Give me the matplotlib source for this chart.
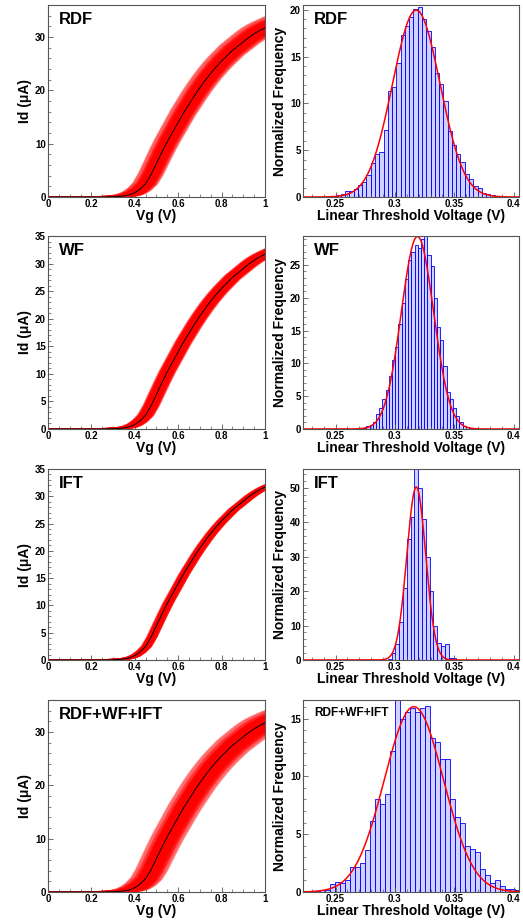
import numpy as np
import matplotlib
matplotlib.use("Agg")
import matplotlib.pyplot as plt
from matplotlib.ticker import MultipleLocator, FuncFormatter
from matplotlib.collections import LineCollection

plt.rcParams['font.family'] = ['Liberation Sans', 'DejaVu Sans']
plt.rcParams['font.weight'] = 'bold'

# ---------------- data ----------------
# mean Id-Vg characteristic (black line)
vg_points = [-0.1, 0.0, 0.1, 0.2, 0.25, 0.3, 0.325, 0.35, 0.375, 0.4, 0.425,
             0.45, 0.475, 0.5, 0.525, 0.55, 0.575, 0.6, 0.625, 0.65, 0.675,
             0.7, 0.725, 0.75, 0.775, 0.8, 0.825, 0.85, 0.875, 0.9, 0.925,
             0.95, 0.975, 1.0, 1.05, 1.1]
id_mean = [0.0, 0.0, 0.0, 0.0, 0.0, 0.05, 0.1, 0.2, 0.4, 0.8, 1.5,
           2.5, 4.2, 6.3, 8.4, 10.4, 12.2, 14.0, 15.8, 17.4, 19.0,
           20.5, 21.9, 23.2, 24.4, 25.5, 26.5, 27.5, 28.3, 29.1, 29.9,
           30.6, 31.2, 31.7, 32.6, 33.3]

panel_names = ["RDF", "WF", "IFT", "RDF+WF+IFT"]

# histogram of linear threshold voltage (normalized frequency)
rdf_start, rdf_width = 0.2400, 0.0036
rdf_heights = [0, 0, 0.1, 0.2, 0.3, 0.6, 0.6, 0.9, 1.3, 1.6, 2.4, 3.6, 4.6, 4.8,
               7.2, 11.3, 11.7, 14.3, 17.3, 18.3, 19.2, 20.1, 20.3, 19.0, 17.7,
               16.0, 13.2, 12.1, 10.3, 7.0, 5.6, 4.6, 3.7, 2.5, 1.9, 1.2, 1.0,
               0.4, 0.3, 0.2, 0.1, 0.1, 0]
wf_start, wf_width = 0.2625, 0.0027
wf_heights = [0, 0, 0.1, 0.1, 0.2, 0.4, 0.6, 1.0, 2.3, 3.2, 4.5, 6.0, 8.0, 10.5,
              12.5, 16.0, 19.2, 22.8, 25.8, 27.0, 28.0, 27.5, 28.9, 29.5, 26.5,
              24.8, 20.0, 15.5, 13.5, 9.6, 5.6, 4.6, 3.2, 2.0, 1.0, 0.5, 0.3,
              0.2, 0.1, 0.05, 0]
ift_start, ift_width = 0.2940, 0.0032
ift_heights = [0.3, 2.0, 4.5, 11.0, 21.0, 35.0, 41.5, 57.0, 50.0, 41.0, 30.0,
               20.0, 10.0, 5.0, 4.0, 4.7, 0.5, 0.5]
all_start, all_width = 0.2288, 0.0042
all_heights = [0.1, 0.1, 0.2, 0.2, 0.7, 0.9, 0.8, 1.0, 2.2, 2.2, 2.5, 3.6, 6.1,
               8.0, 7.6, 8.5, 12.2, 17.0, 15.0, 15.6, 15.9, 15.6, 15.9, 16.1,
               13.3, 13.0, 11.5, 11.5, 8.0, 6.5, 6.0, 4.0, 3.7, 3.5, 2.0, 1.5,
               0.8, 1.0, 0.5, 0.3, 0.3, 0.2]

# gaussian fit parameters (mean, sigma) of each distribution
fit_mu = [0.318, 0.319, 0.318, 0.316]
fit_sigma = [0.0200, 0.0136, 0.00795, 0.0249]

# number of simulated devices shown in the Id-Vg panels, current scaling with dVth
n_devices = [300, 300, 300, 300]
current_k = [0.55, 0.25, 0.1, 0.5]

id_ylims = [36, 35, 35, 36]
id_major = [10, 5, 5, 10]
id_minor = [2, 1, 1, 2]
hist_ylims = [20.5, 29.4, 55.4, 16.6]
hist_major = [5, 5, 10, 5]
hist_minor = [1, 1, 2, 1]

hist_data = [(rdf_start, rdf_width, rdf_heights),
             (wf_start, wf_width, wf_heights),
             (ift_start, ift_width, ift_heights),
             (all_start, all_width, all_heights)]

# ---------------- figure ----------------
fig = plt.figure(figsize=(5.23, 9.22), dpi=100)
W, H = 523.0, 922.0
rows = [(5, 197), (236, 429), (469, 660), (700, 892)]
left_x = (48, 265)
right_x = (303, 519)

spine_col = '#555555'
tick_fs = 7
lab_fs = 10

def style(ax):
    for s in ax.spines.values():
        s.set_color(spine_col)
        s.set_linewidth(0.8)
    ax.tick_params(which='both', direction='in', colors=spine_col,
                   labelcolor='black', labelsize=tick_fs, top=False, right=False,
                   pad=1.5)
    ax.tick_params(which='major', length=3.5, width=0.6)
    ax.tick_params(which='minor', length=2, width=0.5)
    for lab in ax.get_xticklabels() + ax.get_yticklabels():
        lab.set_fontweight('bold')

fmt = FuncFormatter(lambda v, p: ('%g' % round(v, 4)))

vg_arr = np.array(vg_points)
id_arr = np.array(id_mean)

for i, (top, bot) in enumerate(rows):
    # ---- left: Id-Vg ----
    axL = fig.add_axes([left_x[0] / W, 1 - bot / H, (left_x[1] - left_x[0]) / W,
                        (bot - top) / H])
    start, width, heights = hist_data[i]
    heights = np.array(heights)
    centers = start + width * (np.arange(len(heights)) + 0.5)
    counts = np.round(heights * width * n_devices[i]).astype(int)
    segs = []
    alphas = []
    for c, n in zip(centers, counts):
        if n <= 0:
            continue
        dv = c - fit_mu[i]
        xs = vg_arr + dv
        ys = id_arr * (1 - current_k[i] * dv)
        segs.append(np.column_stack([xs, ys]))
        alphas.append(min(1.0, 0.25 + 0.12 * n))
    cols = [(1, 0, 0, a) for a in alphas]
    lc = LineCollection(segs, colors=cols, linewidths=1.2)
    axL.add_collection(lc)
    axL.plot(vg_arr, id_arr, color='black', lw=0.7)
    axL.set_xlim(0, 1)
    axL.set_ylim(0, id_ylims[i])
    axL.xaxis.set_major_locator(MultipleLocator(0.2))
    axL.xaxis.set_minor_locator(MultipleLocator(0.05))
    axL.yaxis.set_major_locator(MultipleLocator(id_major[i]))
    axL.yaxis.set_minor_locator(MultipleLocator(id_minor[i]))
    axL.xaxis.set_major_formatter(fmt)
    axL.set_xlabel('Vg (V)', fontsize=lab_fs, fontweight='bold', labelpad=0)
    axL.set_ylabel('Id (\u03bcA)', fontsize=lab_fs, fontweight='bold', labelpad=2)
    style(axL)
    axL.text(0.05, 0.965, panel_names[i], transform=axL.transAxes,
             fontsize=12, fontweight='bold', va='top', ha='left')

    # ---- right: histogram ----
    axR = fig.add_axes([right_x[0] / W, 1 - bot / H, (right_x[1] - right_x[0]) / W,
                        (bot - top) / H])
    axR.bar(centers, heights, width=width, align='center',
            facecolor=(0.7, 0.7, 1.0, 0.6), edgecolor='blue', linewidth=0.6)
    xf = np.linspace(0.22, 0.41, 500)
    yf = np.exp(-0.5 * ((xf - fit_mu[i]) / fit_sigma[i]) ** 2) / (fit_sigma[i] * np.sqrt(2 * np.pi))
    axR.plot(xf, yf, color='red', lw=1.1)
    axR.set_xlim(0.2226, 0.4045)
    axR.set_ylim(0, hist_ylims[i])
    axR.xaxis.set_major_locator(MultipleLocator(0.05))
    axR.xaxis.set_minor_locator(MultipleLocator(0.01))
    axR.yaxis.set_major_locator(MultipleLocator(hist_major[i]))
    axR.yaxis.set_minor_locator(MultipleLocator(hist_minor[i]))
    axR.xaxis.set_major_formatter(fmt)
    axR.set_xlabel('Linear Threshold Voltage (V)', fontsize=lab_fs,
                   fontweight='bold', labelpad=0)
    axR.set_ylabel('Normalized Frequency', fontsize=lab_fs, fontweight='bold',
                   labelpad=2)
    style(axR)
    axR.text(0.05, 0.965, panel_names[i], transform=axR.transAxes,
             fontsize=12 if i < 3 else 8.6, fontweight='bold', va='top', ha='left')

fig.savefig('out.png', dpi=100)
